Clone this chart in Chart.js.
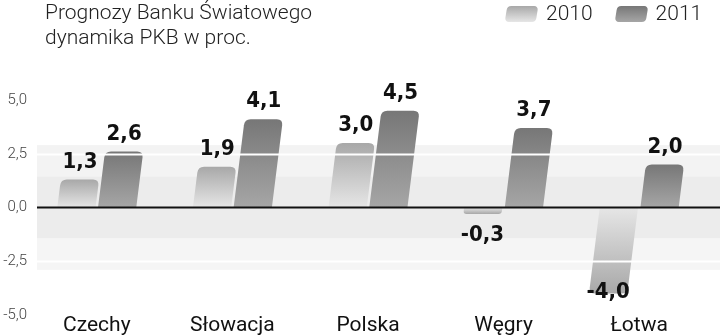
<!DOCTYPE html>
<html lang="pl">
<head>
    <meta charset="UTF-8">
    <title>Prognozy Banku Światowego</title>
    <script src="https://cdn.jsdelivr.net/npm/chart.js@4.4.0/dist/chart.umd.min.js"></script>
    <style>
        body { margin: 0; background: #fff; }
        .wrap { position: relative; width: 720px; height: 336px; overflow: hidden; }
        #chart { position: absolute; left: 0; top: 0; }
        .title {
            position: absolute; left: 45px; top: 0px;
            font-family: Roboto, 'Noto Sans', sans-serif; font-weight: 300;
            font-size: 21px; line-height: 25px; color: #222;
        }
        .legend {
            position: absolute; left: 506px; top: 1px;
            font-family: Roboto, 'Noto Sans', sans-serif; font-weight: 300;
            font-size: 21px; line-height: 25px; color: #222;
            display: flex;
        }
        .legend .item { display: flex; align-items: center; margin-right: 23px; }
        .legend .sw {
            width: 31px; height: 16px; border-radius: 4px; margin-right: 9px;
            transform: skewX(-9deg);
        }
    </style>
</head>
<body>
<div class="wrap">
    <canvas id="chart" width="720" height="336"></canvas>
    <div class="title">Prognozy Banku Światowego<br>dynamika PKB w proc.</div>
    <div class="legend" id="legend"></div>
</div>
<script>
    const categories = ['Czechy', 'Słowacja', 'Polska', 'Węgry', 'Łotwa'];
    const seriesNames = ['2010', '2011'];
    const gdp2010 = [1.3, 1.9, 3.0, -0.3, -4.0];
    const gdp2011 = [2.6, 4.1, 4.5, 3.7, 2.0];
    const yTicks = [5, 2.5, 0, -2.5, -5];

    // outer end colour, base colour
    const shades = [['#a8a8a8', '#e6e6e6'], ['#777777', '#a6a6a6']];

    const fmt = v => v.toFixed(1).replace('.', ',');
    const SLANT = 0.125;

    // legend
    const legend = document.getElementById('legend');
    seriesNames.forEach((name, i) => {
        const item = document.createElement('div');
        item.className = 'item';
        const sw = document.createElement('div');
        sw.className = 'sw';
        sw.style.background = 'linear-gradient(' + shades[i][0] + ',' + shades[i][1] + ')';
        item.appendChild(sw);
        item.appendChild(document.createTextNode(name));
        legend.appendChild(item);
    });

    function barPath(ctx, cx, w, yb, ye, r) {
        const s = ye < yb ? 1 : -1;
        const xl = y => cx - w / 2 + SLANT * (yb - y);
        const xr = y => cx + w / 2 + SLANT * (yb - y);
        const yr = ye + s * r;
        ctx.beginPath();
        ctx.moveTo(xl(yb), yb);
        ctx.lineTo(xl(yr), yr);
        ctx.quadraticCurveTo(xl(ye), ye, xl(ye) + r, ye);
        ctx.lineTo(xr(ye) - r, ye);
        ctx.quadraticCurveTo(xr(ye), ye, xr(yr), yr);
        ctx.lineTo(xr(yb), yb);
        ctx.closePath();
    }

    const decor = {
        id: 'decor',
        beforeDatasetsDraw(chart) {
            const { ctx, chartArea, scales: { y } } = chart;
            const left = chartArea.left + 8, right = chart.width;
            const bands = [[2.9, 1.45, '#f3f3f3'], [1.45, -1.45, '#ececec'], [-1.45, -2.9, '#f5f5f5']];
            ctx.save();
            bands.forEach(b => {
                const y1 = y.getPixelForValue(b[0]), y2 = y.getPixelForValue(b[1]);
                ctx.fillStyle = b[2];
                ctx.fillRect(left, y1, right - left, y2 - y1);
            });
            ctx.restore();
        },
        afterDatasetsDraw(chart) {
            const { ctx, chartArea, scales: { y } } = chart;
            const yb = y.getPixelForValue(0);
            ctx.save();
            chart.data.datasets.forEach((ds, di) => {
                const meta = chart.getDatasetMeta(di);
                meta.data.forEach((el, i) => {
                    const ye = el.y, cx = el.x, w = el.width;
                    const h = Math.abs(ye - yb);
                    const g = ctx.createLinearGradient(0, yb, 0, ye);
                    g.addColorStop(0, shades[di][1]);
                    g.addColorStop(1, shades[di][0]);
                    barPath(ctx, cx, w, yb, ye, Math.min(6, h / 2));
                    ctx.fillStyle = g;
                    ctx.fill();
                });
            });
            // white grid lines at +/-2.5
            ctx.strokeStyle = '#ffffff';
            ctx.lineWidth = 2;
            [2.5, -2.5].forEach(v => {
                const py = Math.round(y.getPixelForValue(v)) + 0.5;
                ctx.beginPath();
                ctx.moveTo(chartArea.left + 8, py);
                ctx.lineTo(chart.width, py);
                ctx.stroke();
            });
            // zero line
            ctx.strokeStyle = '#111';
            ctx.lineWidth = 2;
            ctx.beginPath();
            ctx.moveTo(chartArea.left + 8, yb);
            ctx.lineTo(chart.width, yb);
            ctx.stroke();
            // value labels
            ctx.fillStyle = '#111';
            ctx.font = "bold 22px 'DejaVu Sans Condensed', 'Liberation Sans Narrow', 'DejaVu Sans', sans-serif";
            ctx.textAlign = 'center';
            chart.data.datasets.forEach((ds, di) => {
                const meta = chart.getDatasetMeta(di);
                meta.data.forEach((el, i) => {
                    const v = ds.data[i];
                    const tx = el.x + SLANT * (yb - el.y);
                    if (v >= 0) {
                        ctx.textBaseline = 'alphabetic';
                        ctx.fillText(fmt(v), tx, el.y - 12);
                    } else {
                        ctx.textBaseline = 'top';
                        ctx.fillText(fmt(v), tx, Math.min(el.y + 10, chartArea.bottom - 34));
                    }
                });
            });
            ctx.restore();
        }
    };

    new Chart(document.getElementById('chart'), {
        type: 'bar',
        data: {
            labels: categories,
            datasets: [
                { label: seriesNames[0], data: gdp2010, backgroundColor: 'rgba(0,0,0,0)' },
                { label: seriesNames[1], data: gdp2011, backgroundColor: 'rgba(0,0,0,0)' }
            ]
        },
        options: {
            responsive: false,
            devicePixelRatio: 1,
            animation: false,
            categoryPercentage: 0.6,
            barPercentage: 0.94,
            layout: { padding: { top: 100, right: 13, left: 0, bottom: 0 } },
            plugins: { legend: { display: false }, tooltip: { enabled: false } },
            scales: {
                x: {
                    grid: { display: false, drawTicks: false },
                    border: { display: false },
                    ticks: {
                        padding: 0,
                        color: '#111',
                        font: { family: 'Roboto, sans-serif', size: 21, lineHeight: 1 }
                    }
                },
                y: {
                    min: -5, max: 5,
                    afterBuildTicks: s => { s.ticks = yTicks.map(v => ({ value: v })); },
                    afterFit: s => { s.width = 29; },
                    grid: { display: false, drawTicks: false },
                    border: { display: false },
                    ticks: {
                        padding: 2,
                        color: '#444',
                        font: { family: 'Roboto, sans-serif', size: 15, weight: '300' },
                        callback: v => fmt(v)
                    }
                }
            }
        },
        plugins: [decor]
    });
</script>
</body>
</html>
